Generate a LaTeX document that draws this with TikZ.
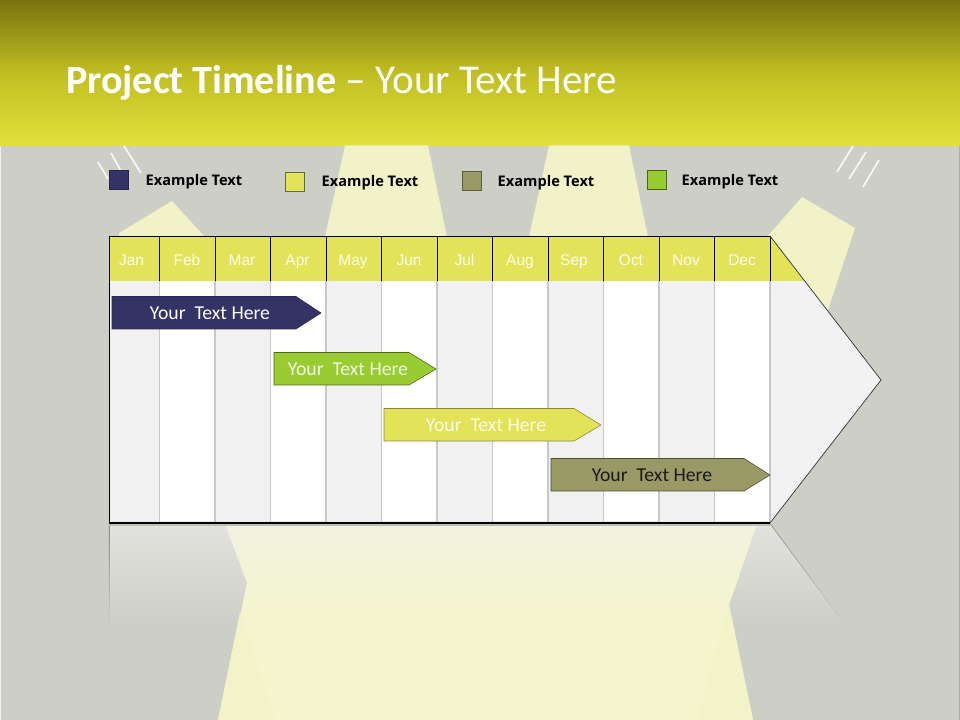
\documentclass[tikz,border=0pt]{standalone}
\usepackage{xcolor}
\usepackage{fontspec}
\setmainfont{Carlito}
\newfontfamily\monthfont{Liberation Sans}
\newfontfamily\keyfont{Open Sans}
\usepackage{tikz}
\usetikzlibrary{positioning}
\definecolor{wall}{HTML}{CDCEC6}
\definecolor{beam}{HTML}{F1F2C7}
\definecolor{beamlow}{HTML}{F2F3C8}
\definecolor{beamsoft}{HTML}{F4F5CD}
\definecolor{beamtop}{HTML}{F2F2E0}
\definecolor{wallsoft}{HTML}{E2E3DE}
\definecolor{bandtop}{HTML}{7A7210}
\definecolor{bandmid}{HTML}{C0BE22}
\definecolor{bandlow}{HTML}{E2E03A}
\definecolor{headyellow}{HTML}{E3E35A}
\definecolor{stripe}{HTML}{F1F1F2}
\definecolor{rule}{HTML}{C8C8C8}
\definecolor{navy}{HTML}{333366}
\definecolor{leaf}{HTML}{99CC33}
\definecolor{olive}{HTML}{999966}
\begin{document}
\begin{tikzpicture}[
                    x=0.025cm, y=-0.025cm,
                    title/.style = {font = \fontsize{29.2}{32}\selectfont, text = white, inner sep=0pt, outer sep=0pt, anchor = west},
                    legend/.style = {font = \fontsize{10.4}{12}\keyfont\bfseries, text = black, inner sep=0pt},
                    month/.style = {font = \fontsize{11}{12}\monthfont, text = white!90!headyellow, inner sep=0pt, text height=7.5pt, text depth=2pt},
                    barlabel/.style = {font = \fontsize{14}{16}\selectfont, inner sep=0pt},
                    swatch/.style = {minimum width = 0.475cm, minimum height = 0.475cm, inner sep=0pt, outer sep=0pt, line width=0.4pt},
                    lampline/.style = {white!85!wall, line width=1.2pt},
                ]
    \useasboundingbox (0,0) rectangle (960,720);
    \fill[wall] (0,0) rectangle (960,720);
    \fill[white!70!wall] (0,145) rectangle (1.2,720);
    \fill[wall!85!black] (958.8,145) rectangle (960,720);
    \shade[top color=bandtop, bottom color=bandlow, middle color=bandmid] (0,0) rectangle (960,145.5);

    \fill[beam] (345,145.5) -- (325,237) -- (447,237) -- (428,145.5) -- cycle;
    \fill[beam] (549,145.5) -- (529,237) -- (648,237) -- (629,145.5) -- cycle;
    \fill[beam] (119,237) -- (119,233) -- (172,201) -- (205,237) -- cycle;
    \fill[beam] (767,237) -- (802,197) -- (855,228) -- (828,310) -- cycle;

    \draw[lampline] (98,162) -- (108,179);
    \draw[lampline] (111,153) -- (121,171);
    \draw[lampline] (124,146) -- (141,173);
    \draw[lampline] (853,146) -- (837,172);
    \draw[lampline] (866,152) -- (849,179);
    \draw[lampline] (879,160) -- (863,187);

    \shade[top color=wallsoft, bottom color=wall] (109,524) -- (770,524) -- (845,625) -- (109,625) -- cycle;
    \shade[top color=beamtop, bottom color=beamsoft, middle color=beamsoft] (225,524) -- (247,583) -- (218,720) -- (753,720) -- (729,605) -- (757,524) -- cycle;
    \fill[beamlow] (240,612) -- (218,720) -- (275,720) -- cycle;
    \fill[beamlow] (729,605) -- (753,720) -- (697,720) -- cycle;
    \shade[top color=gray!90!wall, bottom color=wall] (108.8,524) rectangle (109.5,625);
    \shade[top color=gray!90!wall, bottom color=wall] (770,524) -- (845,625) -- (845.8,625) -- (770.8,524) -- cycle;
    \fill[wall!85!beam!90!black] (109,524) rectangle (770,526);

    \fill[stripe] (770,236) -- (881,380) -- (770,523) -- cycle;
    \fill[headyellow] (770,236) -- (804.7,281) -- (770,281) -- cycle;
    \fill[white] (109,281) rectangle (770,523);
    \foreach \x/\w/\c/\m [count=\i] in {109/159.5/131.5/Jan, 159.5/215/187/Feb, 215/270.5/242/Mar, 270.5/326/297.5/Apr, 326/381.5/353/May, 381.5/437/409/Jun, 437/492.5/464.5/Jul, 492.5/548/520/Aug, 548/603.5/574/Sep, 603.5/659/631/Oct, 659/714.5/686/Nov, 714.5/770/742/Dec} {
        \ifodd\i \fill[stripe] (\x,281) rectangle (\w,523); \fi
        \fill[headyellow] (\x,236) rectangle (\w,281);
        \node[month] (\m) at (\c,261.5) {\m};
    }
    \fill[black!8] (109,521.5) rectangle (770,523);
    \foreach \w in {159.5,215,270.5,326,381.5,437,492.5,548,603.5,659,714.5,770} {
        \draw[rule, line width=0.9pt] (\w,281) -- (\w,522);
        \draw[black, line width=0.5pt] (\w,236) -- (\w,281);
    }
    \coordinate (TopLeft) at (109,236);
    \coordinate (TopRight) at (770,236);
    \coordinate (Tip) at (881,380);
    \coordinate (LowRight) at (770,523);
    \coordinate (LowLeft) at (109,523);
    \draw[black, line width=0.6pt] (LowLeft) -- (TopLeft) -- (TopRight);
    \draw[black!80, line width=0.5pt] (TopRight) -- (Tip) -- (LowRight);
    \draw[black, line width=0.8pt] (LowRight) -- (LowLeft);

    \node[title] (Title) at (66,83) {{\fontsize{28.5}{32}\selectfont\bfseries Project Timeline} – Your Text Here};

    \node[swatch, fill=navy, draw=navy!70!black] (KeyA) at (118.5,179.5) {};
    \node[swatch, fill=headyellow, draw=olive!70!headyellow!60!black] (KeyB) at (294.5,181.5) {};
    \node[swatch, fill=olive, draw=olive!60!black] (KeyC) at (472,180.5) {};
    \node[swatch, fill=leaf, draw=leaf!50!black] (KeyD) at (656.5,179.5) {};
    \node[legend] (LabelA) at (194,182) {Example Text};
    \node[legend] (LabelB) at (370,183) {Example Text};
    \node[legend] (LabelC) at (546,183) {Example Text};
    \node[legend] (LabelD) at (730,182) {Example Text};

    \draw[navy!80!black, fill=navy, line width=0.4pt] (112,296.5) -- (296,296.5) -- (321,313) -- (296,329) -- (112,329) -- cycle;
    \draw[leaf!50!black, fill=leaf, line width=0.4pt] (274,352.5) -- (409,352.5) -- (436,369) -- (409,385) -- (274,385) -- cycle;
    \draw[headyellow!60!black, fill=headyellow, line width=0.4pt] (384,408.5) -- (574,408.5) -- (601,425) -- (574,441) -- (384,441) -- cycle;
    \draw[olive!50!black, fill=olive, line width=0.4pt] (551,458.5) -- (744,458.5) -- (770,475) -- (744,491) -- (551,491) -- cycle;
    \node[barlabel, text=white] (BarA) at (210,313) {Your\ \ Text Here};
    \node[barlabel, text=white!85!leaf] (BarB) at (348,369) {Your\ \ Text Here};
    \node[barlabel, text=white!85!headyellow] (BarC) at (486,425) {Your\ \ Text Here};
    \node[barlabel, text=black!90] (BarD) at (652,475) {Your\ \ Text Here};
\end{tikzpicture}
\end{document}
